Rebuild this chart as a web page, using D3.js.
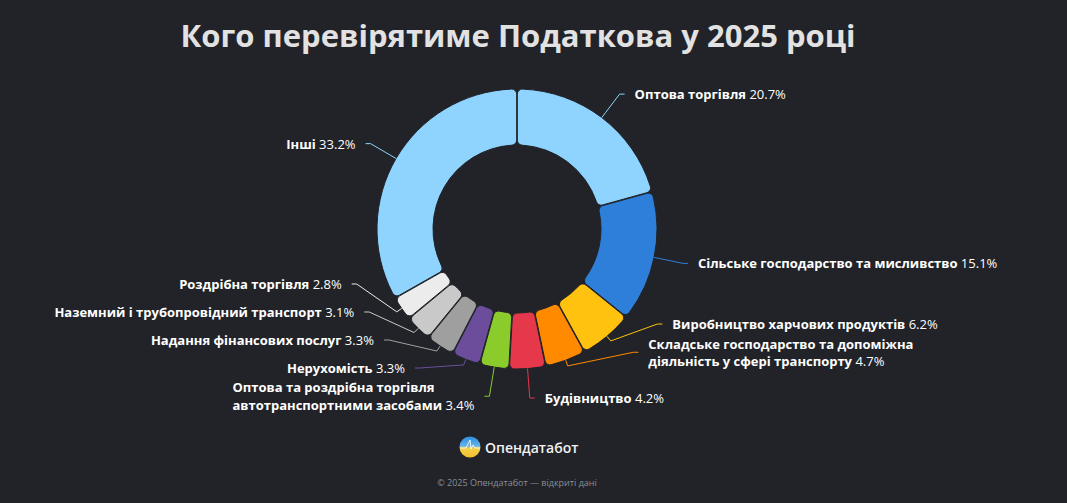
<!DOCTYPE html>
<html>
<head>
<meta charset="utf-8">
<script src="https://cdn.jsdelivr.net/npm/d3@7"></script>
<style>
  html, body { margin: 0; padding: 0; background: #212328; }
  #chart { width: 1067px; height: 503px; }
</style>
</head>
<body>
<div id="chart"></div>
<script>
// Sectors in the order they are drawn (clockwise from the top)
const categories = [
  "Оптова торгівля",
  "Сільське господарство та мисливство",
  "Виробництво харчових продуктів",
  "Складське господарство та допоміжна\nдіяльність у сфері транспорту",
  "Будівництво",
  "Оптова та роздрібна торгівля\nавтотранспортними засобами",
  "Нерухомість",
  "Надання фінансових послуг",
  "Наземний і трубопровідний транспорт",
  "Роздрібна торгівля",
  "Інші"
];
// Share of planned inspections, %
const shares = [20.7, 15.1, 6.2, 4.7, 4.2, 3.4, 3.3, 3.3, 3.1, 2.8, 33.2];

const palette = ["#8fd4fe", "#2d7fd9", "#ffc20e", "#ff8a00", "#e5384a", "#8bcb2c",
  "#6c4d9c", "#9f9f9f", "#c9c9c9", "#ececec", "#8fd4fe"];

const width = 1067;
const height = 503;
const background = "#212328";
const font = "'Open Sans', 'Noto Sans', sans-serif";

// Donut geometry
const cx = 517;
const cy = 229;
const outerR = 140;
const innerR = 84;
const labelR = 169.5;
const lineHeight = 17.5;

const data = categories.map((name, i) => ({ name, value: shares[i], color: palette[i] }));

const svg = d3.select("#chart").append("svg")
  .attr("width", width)
  .attr("height", height)
  .style("background-color", background)
  .style("font-family", font);

// Title
svg.append("text")
  .attr("x", 518)
  .attr("y", 47)
  .attr("text-anchor", "middle")
  .style("fill", "#e2e2e2")
  .style("font-size", "31px")
  .style("font-weight", 700)
  .text("Кого перевірятиме Податкова у 2025 році");

const pie = d3.pie()
  .sort(null)
  .value(d => d.value);

const arc = d3.arc()
  .innerRadius(innerR)
  .outerRadius(outerR)
  .cornerRadius(5)
  .padAngle(0.004);

const arcs = pie(data);

const chart = svg.append("g")
  .attr("transform", `translate(${cx},${cy})`);

// Draw sectors
chart.selectAll("path.slice")
  .data(arcs)
  .enter()
  .append("path")
  .attr("class", "slice")
  .attr("d", arc)
  .style("fill", d => d.data.color)
  .style("stroke", background)
  .style("stroke-width", 1);

// Point at radius r on the middle of a sector (relative to centre)
function polar(angle, r) {
  return [Math.sin(angle) * r, -Math.cos(angle) * r];
}

// Build label objects with their natural position
const labels = arcs.map(d => {
  const mid = (d.startAngle + d.endAngle) / 2;
  const lines = d.data.name.split("\n");
  return {
    arc: d,
    mid,
    right: mid < Math.PI,
    // label hanging straight under the donut needs room for its connector
    bottom: Math.abs(mid - Math.PI) < 0.1,
    lines,
    h: lines.length * lineHeight,
    y: -Math.cos(mid) * labelR
  };
});

// Push overlapping labels up from the bottom edge, one side at a time
function spacing(a, b) {
  const gap = Math.max(28, (a.h + b.h) / 2 + 2);
  return b.bottom ? gap + lineHeight : gap;
}
[true, false].forEach(side => {
  const list = labels.filter(l => l.right === side).sort((a, b) => b.y - a.y);
  list.forEach((l, i) => {
    if (i === 0) {
      l.y = Math.min(l.y, 187 - l.h / 2);
    } else {
      l.y = Math.min(l.y, list[i - 1].y - spacing(l, list[i - 1]));
    }
  });
});

// Horizontal position follows the label circle
labels.forEach(l => {
  const dx = Math.sqrt(Math.max(0, labelR * labelR - l.y * l.y));
  l.xc = l.right ? dx : -dx;
});

// Connectors
const connector = d3.line();
chart.selectAll("path.connector")
  .data(labels)
  .enter()
  .append("path")
  .attr("class", "connector")
  .attr("d", l => {
    const dir = l.right ? 1 : -1;
    return connector([
      polar(l.mid, outerR),
      polar(l.mid, outerR + 6),
      [l.xc, l.y],
      [l.xc + 5 * dir, l.y]
    ]);
  })
  .style("fill", "none")
  .style("stroke", l => l.arc.data.color)
  .style("stroke-width", 1);

// Label texts
const labelGroups = chart.selectAll("g.label")
  .data(labels)
  .enter()
  .append("g")
  .attr("class", "label");

labelGroups.each(function(l) {
  const g = d3.select(this);
  l.lines.forEach((line, i) => {
    const t = g.append("text")
      .attr("x", 0)
      .attr("y", (i - (l.lines.length - 1) / 2) * lineHeight)
      .attr("dominant-baseline", "central")
      .style("fill", "#ffffff")
      .style("font-size", "13px");
    t.append("tspan")
      .style("font-weight", 700)
      .text(line);
    if (i === l.lines.length - 1) {
      t.append("tspan")
        .style("font-weight", 400)
        .text(" " + l.arc.data.value.toFixed(1) + "%");
    }
  });
  // Widest line decides where a left-side block starts
  let maxW = 0;
  g.selectAll("text").each(function() {
    maxW = Math.max(maxW, this.getComputedTextLength());
  });
  const x = l.right ? l.xc + 15 : l.xc - 15 - maxW;
  g.attr("transform", `translate(${x},${l.y})`);
});

// Brand logo
const defs = svg.append("defs");
const grad = defs.append("linearGradient")
  .attr("id", "logoGrad")
  .attr("x1", 0).attr("y1", 0)
  .attr("x2", 0).attr("y2", 1);
grad.append("stop").attr("offset", "0%").attr("stop-color", "#2f8de0");
grad.append("stop").attr("offset", "45%").attr("stop-color", "#62b3ea");
grad.append("stop").attr("offset", "55%").attr("stop-color", "#f2d04c");
grad.append("stop").attr("offset", "100%").attr("stop-color", "#f3bf2c");

const logo = svg.append("g")
  .attr("transform", "translate(470,447)");
logo.append("circle")
  .attr("r", 10.5)
  .style("fill", "url(#logoGrad)");
logo.append("path")
  .attr("d", "M-10,1 L-4,1 L-2,-3 L0,-7 L1,2 L3,-2 L5,1 L10,1")
  .style("fill", "none")
  .style("stroke", "#ffffff")
  .style("stroke-width", 1)
  .style("opacity", 0.85);

svg.append("text")
  .attr("x", 485)
  .attr("y", 447)
  .attr("dominant-baseline", "central")
  .style("fill", "#f2f2f2")
  .style("font-size", "14px")
  .style("font-weight", 600)
  .text("Опендатабот");

// Footer
svg.append("text")
  .attr("x", 517)
  .attr("y", 486)
  .attr("text-anchor", "middle")
  .style("fill", "#8b8e94")
  .style("font-size", "9px")
  .text("© 2025 Опендатабот — відкриті дані");
</script>
</body>
</html>
